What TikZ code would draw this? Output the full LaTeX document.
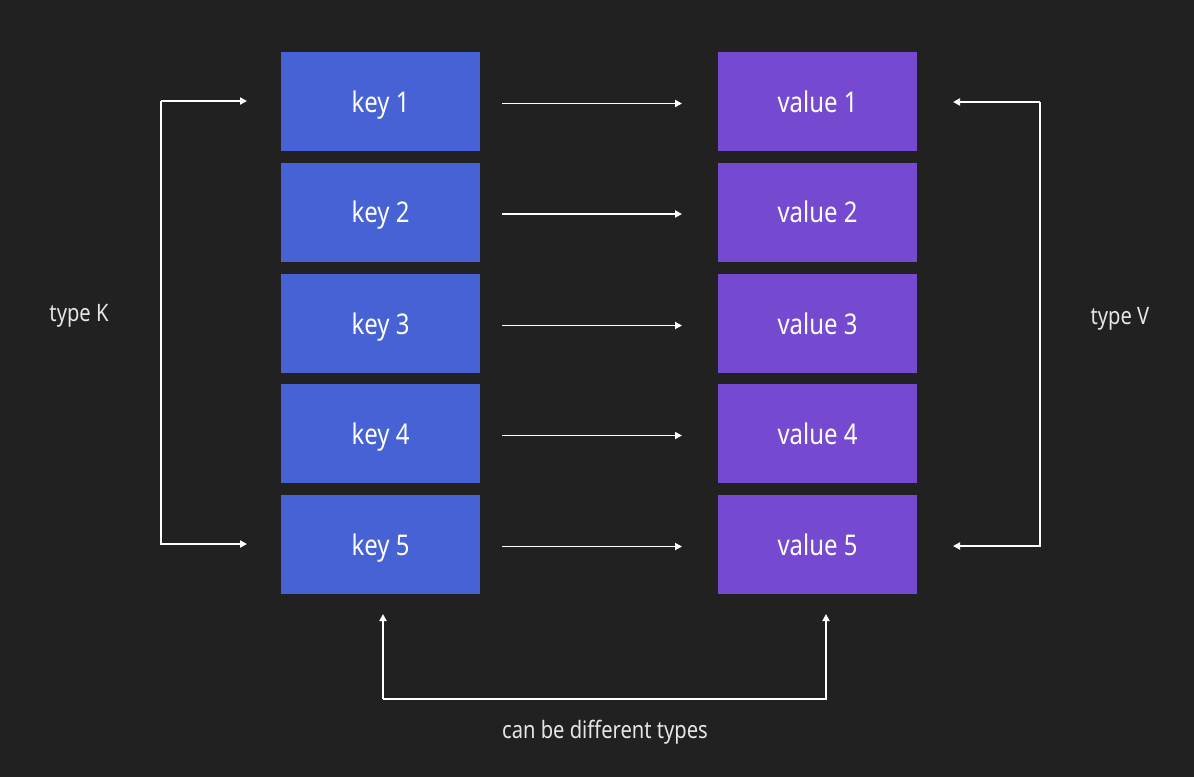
\documentclass[tikz,border=0pt]{standalone}
\usepackage{fontspec}
\setmainfont{Noto Sans}[FakeStretch=0.84]
\usetikzlibrary{arrows.meta}
\definecolor{bg}{HTML}{212121}
\definecolor{keyc}{HTML}{4662D4}
\definecolor{valc}{HTML}{764AD0}
\definecolor{lbl}{HTML}{E6E6E6}
\tikzset{
  box/.style={minimum width=199pt, minimum height=99pt, inner sep=0pt, text height=21pt, text depth=0pt, text=white, font=\fontsize{28.5}{33}\selectfont},
  keybox/.style={box, fill=keyc},
  valbox/.style={box, fill=valc},
  conn/.style={draw=white, line width=1.8pt, -{Triangle[length=7pt,width=7pt]}},
  lab/.style={text=lbl, font=\fontsize{24}{28}\selectfont, inner sep=0pt}
}
\begin{document}
\begin{tikzpicture}[x=1pt,y=-1pt]
\fill[bg] (0,0) rectangle (1194,777);
\useasboundingbox (0,0) rectangle (1194,777);
\foreach \i/\y in {1/101.5,2/212,3/323.5,4/433.5,5/544.5}{
  \node[keybox] (k\i) at (380.5,\y) {key \i};
  \node[valbox] (v\i) at (817.5,\y) {value \i};
  \coordinate (ka\i) at (502,\y+2);
  \coordinate (va\i) at (682,\y+2);
  \draw[conn] (ka\i) -- (va\i);
}
% left bracket
\coordinate (lt) at (247,101);
\coordinate (lb) at (247,544);
\coordinate (lx) at (161,101);
\coordinate (lxb) at (161,544);
\draw[conn] (lx) -- (lt);
\draw[conn] (lx) -- (lxb) -- (lb);
% right bracket
\coordinate (rt) at (953,102);
\coordinate (rb) at (953,546);
\coordinate (rx) at (1040,102);
\coordinate (rxb) at (1040,546);
\draw[conn] (rx) -- (rt);
\draw[conn] (rx) -- (rxb) -- (rb);
% bottom bracket
\coordinate (bl) at (383,614);
\coordinate (br) at (826,614);
\coordinate (bld) at (383,699);
\coordinate (brd) at (826,699);
\draw[conn] (bld) -- (bl);
\draw[conn] (bld) -- (brd) -- (br);
\node[lab] (tk) at (79,316) {type K};
\node[lab] (tv) at (1120,319) {type V};
\node[lab] (cd) at (605,732) {can be different types};
\end{tikzpicture}
\end{document}
